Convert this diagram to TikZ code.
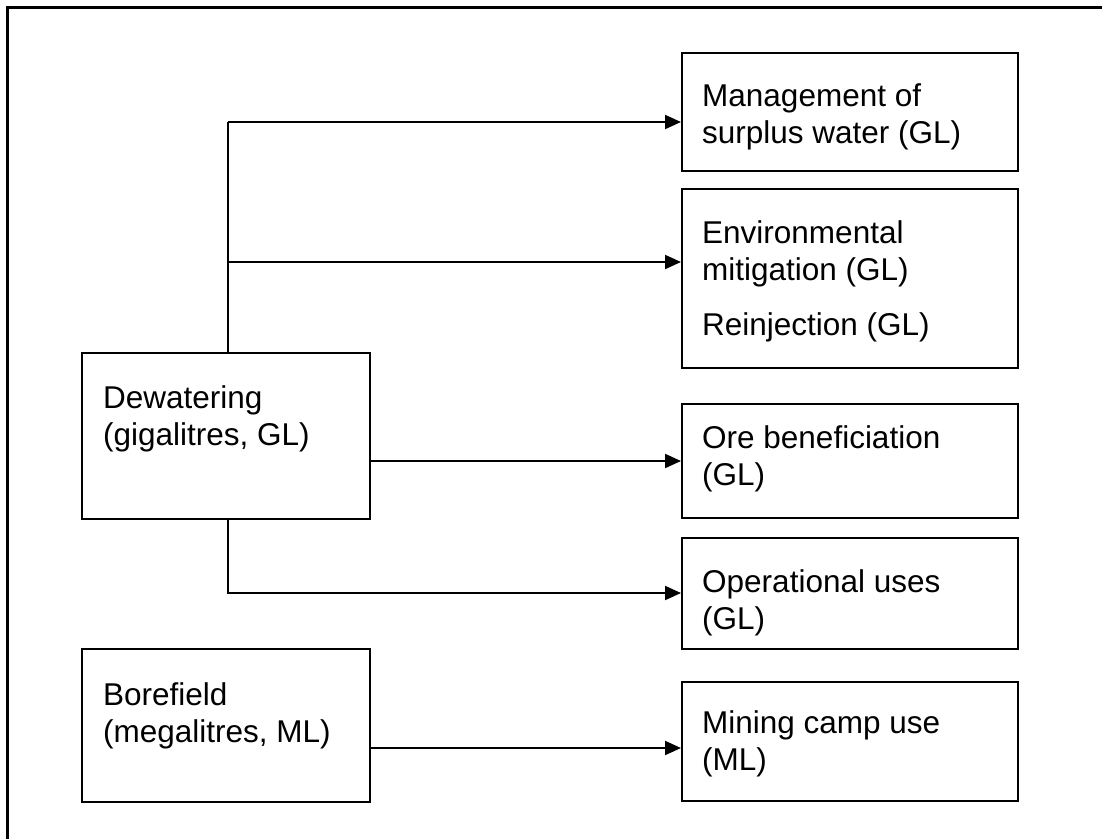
\documentclass[tikz,border=0pt]{standalone}
\usepackage{fontspec}
\setmainfont{Liberation Sans}
\usetikzlibrary{arrows.meta}
\begin{document}
\begin{tikzpicture}[x=1pt,y=-1pt,
  box/.style={draw, line width=1.8pt, rectangle, anchor=north west, inner sep=0pt},
  txt/.style={anchor=base west, inner sep=0pt, align=left, font=\fontsize{31.5}{36.5}\selectfont},
  conn/.style={line width=2pt},
  arr/.style={conn, -{Triangle[length=16pt,width=14pt]}}]
\useasboundingbox (0,0) rectangle (1102,839);
% outer frame (top and left edges visible)
\draw[line width=2.8pt] (7.5,839) -- (7.5,7.5) -- (1102,7.5);
% boxes
\node[box, minimum width=288pt, minimum height=166pt] (dew) at (81,352) {};
\node[box, minimum width=288pt, minimum height=153pt] (bore) at (81,648) {};
\node[box, minimum width=336pt, minimum height=118pt] (mgmt) at (681,52) {};
\node[box, minimum width=336pt, minimum height=179pt] (env) at (681,188) {};
\node[box, minimum width=336pt, minimum height=114pt] (ore) at (681,403) {};
\node[box, minimum width=336pt, minimum height=111pt] (oper) at (681,537) {};
\node[box, minimum width=336pt, minimum height=119pt] (camp) at (681,681) {};
% texts (base anchor = baseline of last line)
\node[txt] (tdew) at (103,445) {Dewatering\\(gigalitres, GL)};
\node[txt] (tbore) at (103,742) {Borefield\\(megalitres, ML)};
\node[txt] (tmgmt) at (702,143) {Management of\\surplus water (GL)};
\node[txt] (tenv) at (702,280) {Environmental\\mitigation (GL)};
\node[txt] (trein) at (702,335) {Reinjection (GL)};
\node[txt] (tore) at (702,485) {Ore beneficiation\\(GL)};
\node[txt] (toper) at (702,629) {Operational uses\\(GL)};
\node[txt] (tcamp) at (702,770) {Mining camp use\\(ML)};
% connectors
\coordinate (jt) at (228,122);
\coordinate (je) at (228,262);
\coordinate (jb) at (228,593);
\draw[conn] (dew.north -| jt) -- (jt);
\draw[arr] (jt) -- (mgmt.west |- jt);
\draw[arr] (je) -- (env.west |- je);
\draw[arr] (dew.south -| jb) |- (oper.west |- jb);
\draw[arr] (dew.east |- 0,461) -- (ore.west |- 0,461);
\draw[arr] (bore.east |- 0,748) -- (camp.west |- 0,748);
\end{tikzpicture}
\end{document}
